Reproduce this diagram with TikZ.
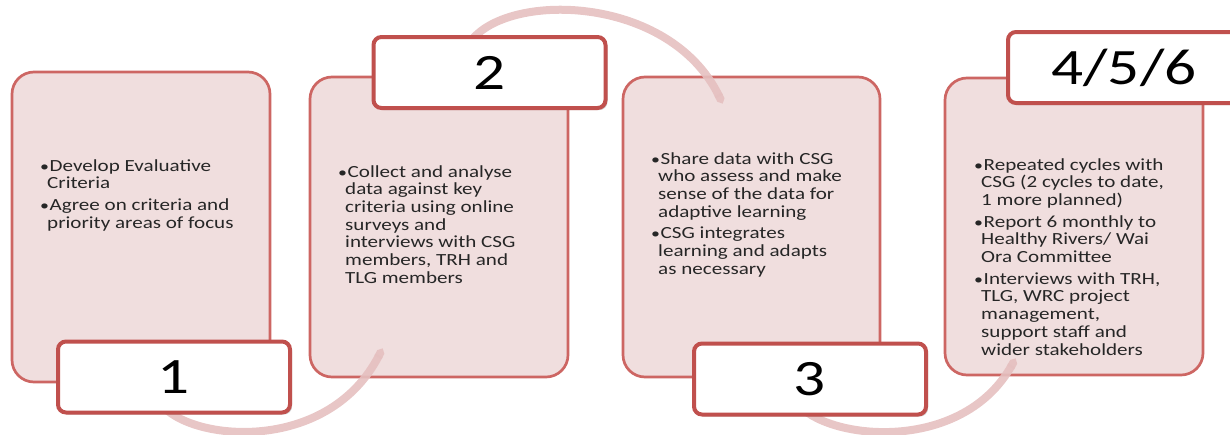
\documentclass[tikz,border=0pt]{standalone}
\usepackage{fontspec}
\setmainfont{Carlito}[FakeStretch=1.24]
\usetikzlibrary{shadows,arrows.meta}

\definecolor{boxfill}{HTML}{F0DEDE}
\definecolor{boxline}{HTML}{CD6663}
\definecolor{numline}{HTML}{C0504D}
\definecolor{arcpink}{HTML}{E5C0C0}

\pgfdeclarelayer{back}
\pgfdeclarelayer{arcs}
\pgfsetlayers{back,arcs,main}

\newcommand{\bul}{\makebox[9.5pt][l]{\scalebox{.85}{•}}}
\newcommand{\ind}{\hspace*{7pt}}

\tikzset{
  stagebox/.style={draw=boxline, fill=boxfill, line width=2.7pt, rounded corners=22pt,
    minimum width=258pt, minimum height=300pt},
  numbox/.style={draw=numline, fill=white, line width=4pt, rounded corners=8pt,
    minimum width=232pt, minimum height=71pt, font=\fontsize{51}{52}\selectfont,
    drop shadow={shadow xshift=2pt, shadow yshift=-2pt, opacity=.3, fill=black!60}},
  stagetext/.style={anchor=north west, align=left, inner sep=0pt, text=black!85,
    font=\fontsize{17}{17.7}\selectfont},
  looparc/.style={draw=arcpink, line width=8pt, opacity=.9, -{Triangle Cap}}
}

\begin{document}
\begin{tikzpicture}[x=1pt, y=-1pt]
\useasboundingbox (0,0) rectangle (1230,434);

% the four stages
\begin{pgfonlayer}{back}
\node[stagebox, minimum height=310pt] (s1) at (141,227) {};
\node[stagebox] (s2) at (439,227) {};
\node[stagebox, minimum width=257pt] (s3) at (751.5,227) {};
\node[stagebox, minimum height=297pt] (s4) at (1074,226.5) {};
\end{pgfonlayer}

\node[stagetext] (t1) at (40,159) {\bul Develop Evaluative\\\ind Criteria\\[4pt]
  \bul Agree on criteria and\\\ind priority areas of focus};
\node[stagetext] (t2) at (338,165) {\bul Collect and analyse\\\ind data against key\\
  \ind criteria using online\\\ind surveys and\\\ind interviews with CSG\\
  \ind members, TRH and\\\ind TLG members};
\node[stagetext] (t3) at (651,152) {\bul Share data with CSG\\\ind who assess and make\\
  \ind sense of the data for\\\ind adaptive learning\\[4pt]
  \bul CSG integrates\\\ind learning and adapts\\\ind as necessary};
\node[stagetext] (t4) at (974,158) {\bul Repeated cycles with\\\ind CSG (2 cycles to date,\\
  \ind 1 more planned)\\[4pt]
  \bul Report 6 monthly to\\\ind Healthy Rivers/ Wai\\\ind Ora Committee\\[4pt]
  \bul Interviews with TRH,\\\ind TLG, WRC project\\\ind management,\\
  \ind support staff and\\\ind wider stakeholders};

% number tabs
\node[numbox] (n1) at (174,377) {1};
\node[numbox] (n2) at (489.5,72.5) {2};
\node[numbox] (n3) at (810,379) {3};
\node[numbox] (n4) at (1124,67.5) {4/5/6};

% arcs from one stage to the next
\coordinate (a1) at ([shift={(-10,-7)}]n1.south);
\coordinate (e1) at ([shift={(74,-30)}]s2.south west);
\coordinate (a2) at ([shift={(-20,8)}]n2.north);
\coordinate (e2) at ([shift={(101,28)}]s3.north west);
\coordinate (a3) at ([shift={(-10,-10)}]n3.south);
\coordinate (e3) at ([shift={(72,-18)}]s4.south west);
\begin{pgfonlayer}{arcs}
\draw[looparc] (a1) .. controls +(35,35) and +(-53,103) .. (e1);
\draw[looparc] (a2) .. controls +(35,-52) and +(-53,-110) .. (e2);
\draw[looparc] (a3) .. controls +(35,35) and +(-52,93) .. (e3);
\end{pgfonlayer}
\end{tikzpicture}
\end{document}
